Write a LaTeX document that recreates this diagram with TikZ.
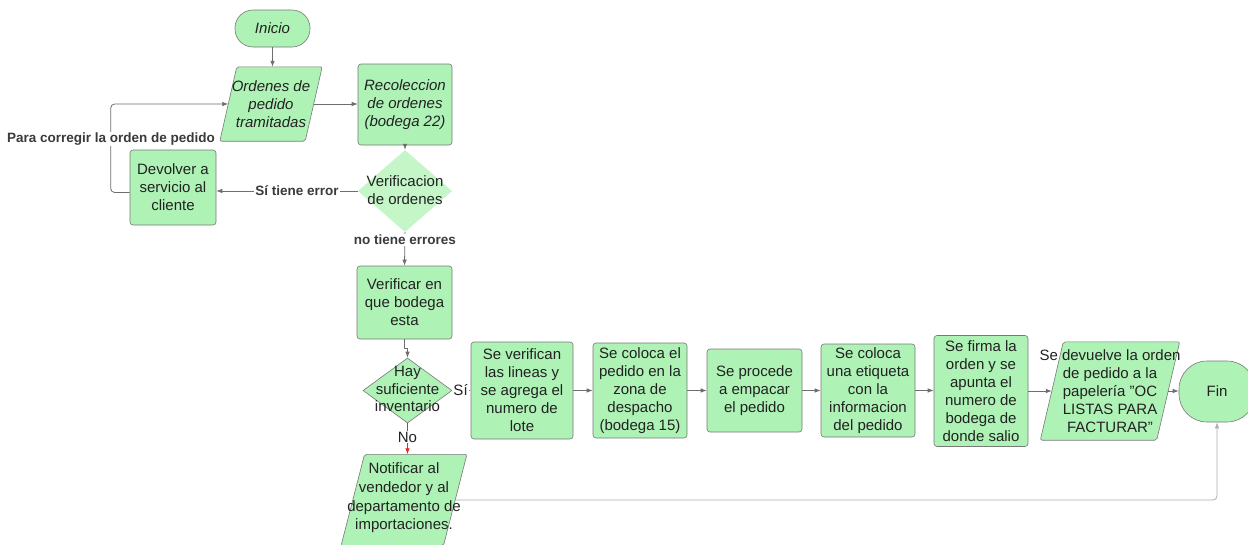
\documentclass[tikz,border=0pt]{standalone}
\usepackage{fontspec}
\setmainfont{Liberation Sans}
\usetikzlibrary{shapes.geometric,arrows.meta,calc}
\pgfdeclarelayer{bg}
\pgfsetlayers{bg,main}
\definecolor{boxfill}{RGB}{174,242,182}
\definecolor{dfill}{RGB}{196,246,200}
\definecolor{boxline}{RGB}{120,120,120}
\definecolor{lineclr}{RGB}{110,110,110}
\definecolor{lightline}{RGB}{175,175,175}
\definecolor{txt}{RGB}{34,34,34}
\definecolor{lbltxt}{RGB}{58,58,58}
\definecolor{redline}{RGB}{230,40,40}
\tikzset{
  boxfont/.style={font=\fontsize{15}{18}\selectfont, text=txt},
  proc/.style={boxfont, draw=boxline, fill=boxfill, rounded corners=3pt, inner sep=0pt, align=center, line width=0.6pt},
  term/.style={proc, rounded corners=18pt},
  ptext/.style={boxfont, draw=none, inner sep=0pt, align=center},
  pframe/.style={draw=none, inner sep=0pt, rectangle},
  pshape/.style={draw=boxline, fill=boxfill, line width=0.6pt, rounded corners=2pt},
  dshape/.style={diamond, inner sep=0pt},
  conn/.style={draw=lineclr, line width=0.8pt, -{Latex[length=6pt,width=4.5pt]}},
  lbl/.style={font=\bfseries\fontsize{13.5}{15}\selectfont, text=lbltxt, fill=white, inner sep=1pt},
  slbl/.style={font=\fontsize{15}{17}\selectfont, text=txt, fill=white, inner sep=1pt},
}
\begin{document}
\begin{tikzpicture}[x=1pt,y=-1pt]
\useasboundingbox (0,0) rectangle (1248,544);

% nodes
\node[term, minimum width=75pt, minimum height=37pt, font=\itshape\fontsize{15}{18}\selectfont] (ini) at (272.5,28.5) {Inicio};
\node[pframe, minimum width=85pt, minimum height=74pt] (ord) at (271,104) {};
\node[ptext, font=\itshape\fontsize{15}{18}\selectfont] (ordtxt) at (ord.center) {Ordenes de\\pedido\\tramitadas};
\node[proc, minimum width=94pt, minimum height=81pt, font=\itshape\fontsize{15}{18}\selectfont] (rec) at (405,104.5) {Recoleccion\\de ordenes\\(bodega 22)};
\node[dshape, fill=dfill, minimum width=94pt, minimum height=82pt] (ver) at (405,191) {};
\node[ptext] (vertxt) at (405,190) {Verificacion\\de ordenes};
\node[proc, minimum width=86pt, minimum height=75pt] (devo) at (173,187.5) {Devolver a\\servicio al\\cliente};
\node[proc, minimum width=95pt, minimum height=73pt] (verif) at (404.5,302.5) {Verificar en\\que bodega\\esta};
\node[dshape, draw=boxline, line width=0.6pt, fill=boxfill, minimum width=89pt, minimum height=65pt] (hay) at (407.5,390.5) {};
\node[ptext, font=\fontsize{15}{17.5}\selectfont] (haytxt) at (407.5,389) {Hay\\suficiente\\inventario};
\node[proc, minimum width=102pt, minimum height=97pt] (sev) at (522,390.5) {Se verifican\\las lineas y\\se agrega el\\numero de\\lote};
\node[proc, minimum width=94pt, minimum height=95pt] (col) at (640,390.5) {Se coloca el\\pedido en la\\zona de\\despacho\\(bodega 15)};
\node[proc, minimum width=95pt, minimum height=83pt] (pro) at (754.5,390.5) {Se procede\\a empacar\\el pedido};
\node[proc, minimum width=94pt, minimum height=93pt] (eti) at (868,390.5) {Se coloca\\una etiqueta\\con la\\informacion\\del pedido};
\node[proc, minimum width=94pt, minimum height=111pt] (fir) at (981,391) {Se firma la\\orden y se\\apunta el\\numero de\\bodega de\\donde salio};
\node[pframe, minimum width=116pt, minimum height=98pt] (dev) at (1110,391) {};
\node[ptext] (devtxt) at (1110,391) {Se devuelve la orden\\de pedido a la\\papelería ''OC\\LISTAS PARA\\FACTURAR''};
\node[proc, rounded corners=28pt, minimum width=76pt, minimum height=61pt] (fin) at (1217,391.5) {Fin};
\node[pframe, minimum width=102pt, minimum height=91pt] (notif) at (404,500) {};
\node[ptext, font=\fontsize{15}{18.7}\selectfont] (notiftxt) at (404,498) {Notificar al\\vendedor y al\\departamento de\\importaciones.};

% background and parallelogram shapes
\begin{pgfonlayer}{bg}
\fill[white] (0,0) rectangle (1248,544);
\draw[pshape] ($(ord.north west)+(8.5,0)$) -- ($(ord.north east)+(8.5,0)$) -- ($(ord.south east)-(8.5,0)$) -- ($(ord.south west)-(8.5,0)$) -- cycle;
\draw[pshape] ($(dev.north west)+(11.5,0)$) -- ($(dev.north east)+(11.5,0)$) -- ($(dev.south east)-(11.5,0)$) -- ($(dev.south west)-(11.5,0)$) -- cycle;
\draw[pshape] ($(notif.north west)+(11.75,0)$) -- ($(notif.north east)+(11.75,0)$) -- ($(notif.south east)-(11.75,0)$) -- ($(notif.south west)-(11.75,0)$) -- cycle;
\end{pgfonlayer}

% connectors
\draw[conn] (ini.south) -- (ini.south |- ord.north);
\draw[conn] (ord.east) -- (rec.west |- ord.east);
\draw[conn] (rec.south) -- (ver.north);
\draw[conn] (ver.west) -- (devo.east |- ver.west) node[lbl, pos=0.43] (lsi) {Sí tiene error};
\draw[conn, rounded corners=4pt] ([yshift=-5pt]devo.west) -- ++(-19,0) |- (ord.west);
\node[lbl] (lcor) at (111,139) {Para corregir la orden de pedido};
\draw[conn] (ver.south) -- (verif.north) node[lbl, pos=0.22] (lno) {no tiene errores};
\draw[conn] (verif.south) -- ++(0,9) -| (hay.north);
\draw[conn] (hay.east) -- (sev.west |- hay.east) node[slbl, pos=0.45] (lsi2) {Sí};
\draw[conn, draw=redline, -{Latex[length=6pt,width=4.5pt,color=redline]}] (hay.south) -- (hay.south |- notif.north) node[slbl, pos=0.45] (lno2) {No};
\draw[conn] (sev.east) -- (col.west |- sev.east);
\draw[conn] (col.east) -- (pro.west |- col.east);
\draw[conn] (pro.east) -- (eti.west |- pro.east);
\draw[conn] (eti.east) -- (fir.west |- eti.east);
\draw[conn] (fir.east) -- (dev.west |- fir.east);
\draw[conn] (dev.east) -- (fin.west |- dev.east);
\draw[conn, draw=lightline, rounded corners=4pt] (notif.east) -| (fin.south);
\end{tikzpicture}
\end{document}
